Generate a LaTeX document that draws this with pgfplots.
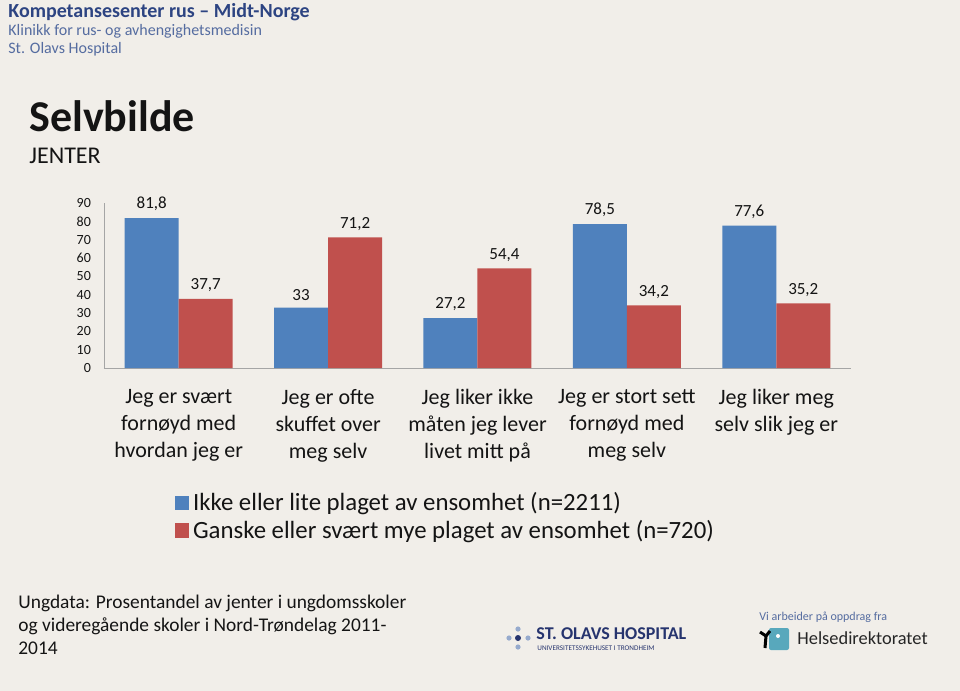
\documentclass[border=0pt]{standalone}
\usepackage{pgfplots}
\pgfplotsset{compat=1.18}
\usepackage{fontspec}
\setmainfont{Carlito}
\definecolor{bg}{RGB}{241,238,233}
\definecolor{cblue}{RGB}{79,129,189}
\definecolor{cred}{RGB}{192,80,77}
\definecolor{hdr}{RGB}{45,68,130}
\definecolor{hdr2}{RGB}{85,108,160}
\definecolor{axgray}{RGB}{165,165,165}
\definecolor{txt}{RGB}{20,20,20}
\definecolor{navy}{RGB}{38,52,110}
\definecolor{lblue}{RGB}{150,170,205}
\definecolor{teal}{RGB}{88,168,188}
\begin{document}
\begin{tikzpicture}
\begin{scope}[x=0.5pt,y=-0.5pt]
\fill[bg] (0,0) rectangle (960,691);
\useasboundingbox (0,0) rectangle (960,691);
\coordinate (O) at (104,368);
% header
\node[anchor=west, font=\bfseries\fontsize{10}{12}\selectfont, text=hdr, inner sep=0] at (8,12) {Kompetansesenter rus – Midt-Norge};
\node[anchor=west, font=\fontsize{8}{9}\selectfont, text=hdr2, inner sep=0] at (8,31) {Klinikk for rus- og avhengighetsmedisin};
\node[anchor=west, font=\fontsize{8}{9}\selectfont, text=hdr2, inner sep=0] at (8,49) {St. Olavs Hospital};
% title
\node[anchor=west, font=\bfseries\fontsize{22}{26}\selectfont, text=txt, inner sep=0] at (29,116) {Selvbilde};
\node[anchor=west, font=\fontsize{12}{14}\selectfont, text=txt, inner sep=0] at (29,156) {JENTER};
% footer
\node[anchor=north west, align=left, font=\fontsize{9.7}{11.5}\selectfont, text=txt, inner sep=0] at (18,595) {Ungdata: Prosentandel av jenter i ungdomsskoler\\og videregående skoler i Nord-Trøndelag 2011-\\2014};
% St. Olavs logo
\fill[lblue] (509,638) circle (2.6);
\fill[lblue] (528,638) circle (2.6);
\fill[lblue] (518,629) circle (2.6);
\fill[lblue] (518,647) circle (2.6);
\fill[navy] (518,638) circle (3);
\node[anchor=west, font=\bfseries\fontsize{9}{10}\selectfont, text=navy, inner sep=0] at (536,634) {ST. OLAVS HOSPITAL};
\node[anchor=west, font=\fontsize{3.6}{4}\selectfont, text=navy, inner sep=0] at (537,648) {UNIVERSITETSSYKEHUSET I TRONDHEIM};
% Helsedirektoratet logo
\node[anchor=west, font=\fontsize{6}{7}\selectfont, text=hdr2, inner sep=0] at (759,617) {Vi arbeider på oppdrag fra};
\fill[teal, rounded corners=1pt] (769,628) rectangle (789,650);
\fill[white] (778,636) circle (2);
\draw[black, line width=1.5pt] (760,632) -- (766,636) -- (770,631);
\draw[black, line width=1.5pt] (766,636) -- (765,648);
\node[anchor=west, font=\fontsize{9.2}{10}\selectfont, text=black!85, inner sep=0] at (797,638) {Helsedirektoratet};
\end{scope}
\begin{axis}[
  at={(O)}, anchor=south west,
  scale only axis, width=373.5pt, height=82.5pt,
  ybar=0pt, bar width=27pt,
  xmin=-0.5, xmax=4.5, ymin=0, ymax=90,
  axis x line=bottom, axis y line=left,
  axis line style={-, draw=axgray},
  major tick length=0pt,
  ytick={0,10,...,90},
  xtick={0,1,2,3,4},
  xticklabels={{Jeg er svært\\fornøyd med\\hvordan jeg er},{Jeg er ofte\\skuffet over\\meg selv},{Jeg liker ikke\\måten jeg lever\\livet mitt på},{Jeg er stort sett\\fornøyd med\\meg selv},{Jeg liker meg\\selv slik jeg er}},
  xticklabel style={align=center, font=\fontsize{11}{13.5}\selectfont, text=txt, yshift=-7pt, anchor=north},
  yticklabel style={font=\fontsize{7}{8}\selectfont, text=txt, xshift=-3pt},
  /pgf/number format/assume math mode=true,
  /pgf/number format/use comma,
  /pgf/number format/1000 sep={},
  nodes near coords,
  nodes near coords style={font=\fontsize{8.5}{10}\selectfont, text=txt},
  legend style={at={(0.086,-0.705)}, anchor=north west, draw=none, fill=none,
    font=\fontsize{12.4}{14}\selectfont, text=txt, row sep=-1pt,
    /tikz/every even column/.append style={column sep=0pt}},
  legend cell align=left,
  legend image code/.code={\fill[#1] (0pt,-3.6pt) rectangle (7.2pt,3.6pt);},
]
\addplot[fill=cblue, draw=none] coordinates {(0,81.8) (1,33) (2,27.2) (3,78.5) (4,77.6)};
\addplot[fill=cred, draw=none] coordinates {(0,37.7) (1,71.2) (2,54.4) (3,34.2) (4,35.2)};
\legend{Ikke eller lite plaget av ensomhet (n=2211), Ganske eller svært mye plaget av ensomhet (n=720)}
\end{axis}
\end{tikzpicture}
\end{document}
